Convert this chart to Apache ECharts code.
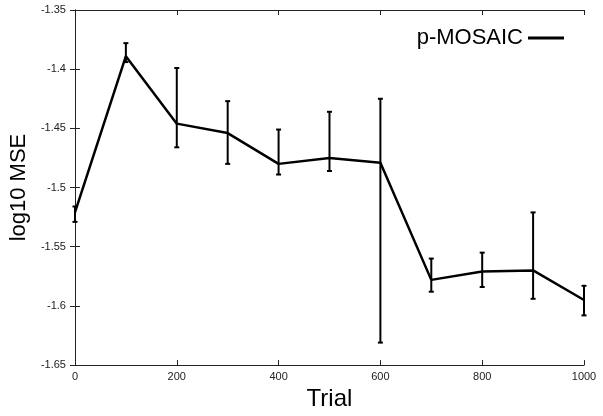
<!DOCTYPE html>
<html>
<head>
<meta charset="utf-8">
<script src="https://cdn.jsdelivr.net/npm/echarts@6/dist/echarts.min.js"></script>
<style>
  html, body { margin: 0; padding: 0; background: #fff; }
  #chart { width: 603px; height: 416px; }
</style>
</head>
<body>
<div id="chart"></div>
<script>
// trials and log10 MSE readings (with error bar ends)
var trials = [0, 100, 200, 300, 400, 500, 600, 700, 800, 900, 1000];
var mse    = [-1.521, -1.389, -1.446, -1.454, -1.480, -1.475, -1.479, -1.578, -1.571, -1.570, -1.595];
var errLow = [-1.529, -1.394, -1.466, -1.480, -1.489, -1.486, -1.631, -1.588, -1.584, -1.594, -1.608];
var errHigh= [-1.516, -1.378, -1.399, -1.427, -1.451, -1.436, -1.425, -1.560, -1.555, -1.521, -1.583];

var font = 'Liberation Sans, Arial, sans-serif';

function getMseChart() {
    var myChart = echarts.init(document.getElementById('chart'));

    var lineData = trials.map(function (t, i) { return [t, mse[i]]; });
    var errData = trials.map(function (t, i) { return [t, errLow[i], errHigh[i]]; });

    var axisLine = { show: true, lineStyle: { color: '#222', width: 1 } };
    var tick = { show: true, inside: true, length: 5, lineStyle: { color: '#222' } };

    var option = {
        animation: false,
        backgroundColor: '#fff',
        grid: { left: 74, right: 19, top: 10, bottom: 38 },
        legend: {
            right: 34,
            top: 22,
            align: 'right',
            icon: 'rect',
            itemWidth: 36,
            itemHeight: 3,
            itemGap: 8,
            data: ['p-MOSAIC'],
            textStyle: { fontFamily: font, fontSize: 22, color: '#000' }
        },
        xAxis: [{
            type: 'value',
            min: 0, max: 1000, interval: 200,
            name: 'Trial',
            nameLocation: 'middle',
            nameGap: 17,
            nameTextStyle: { fontFamily: font, fontSize: 24, color: '#000' },
            axisLine: axisLine,
            axisTick: tick,
            axisLabel: {
                fontFamily: font, fontSize: 11, color: '#222', margin: 6,
                formatter: function (v) { return String(v); }
            },
            splitLine: { show: false }
        }, {
            type: 'value', position: 'top',
            min: 0, max: 1000, interval: 200,
            axisLine: axisLine, axisTick: tick,
            axisLabel: { show: false }, splitLine: { show: false }
        }],
        yAxis: [{
            type: 'value',
            min: -1.65, max: -1.35, interval: 0.05,
            name: 'log10 MSE',
            nameLocation: 'middle',
            nameGap: 40,
            nameTextStyle: { fontFamily: font, fontSize: 22, color: '#000' },
            axisLine: axisLine,
            axisTick: tick,
            axisLabel: {
                fontFamily: font, fontSize: 11, color: '#222', margin: 9,
                formatter: function (v) { return String(Math.round(v * 100) / 100); }
            },
            splitLine: { show: false }
        }, {
            type: 'value', position: 'right',
            min: -1.65, max: -1.35, interval: 0.05,
            axisLine: axisLine, axisTick: tick,
            axisLabel: { show: false }, splitLine: { show: false }
        }],
        series: [
            {
                name: 'errors',
                type: 'custom',
                data: errData,
                z: 2,
                renderItem: function (params, api) {
                    var x = api.value(0);
                    var lo = api.coord([x, api.value(1)]);
                    var hi = api.coord([x, api.value(2)]);
                    var w = 2.5;
                    var st = { stroke: '#000', lineWidth: 2 };
                    return {
                        type: 'group',
                        children: [
                            { type: 'line', shape: { x1: lo[0], y1: lo[1], x2: hi[0], y2: hi[1] }, style: st },
                            { type: 'line', shape: { x1: lo[0] - w, y1: lo[1], x2: lo[0] + w, y2: lo[1] }, style: st },
                            { type: 'line', shape: { x1: hi[0] - w, y1: hi[1], x2: hi[0] + w, y2: hi[1] }, style: st }
                        ]
                    };
                }
            },
            {
                name: 'p-MOSAIC',
                type: 'line',
                data: lineData,
                symbol: 'none',
                z: 3,
                lineStyle: { color: '#000', width: 2.5 },
                itemStyle: { color: '#000' }
            }
        ]
    };
    myChart.setOption(option);
}

getMseChart();
</script>
</body>
</html>
